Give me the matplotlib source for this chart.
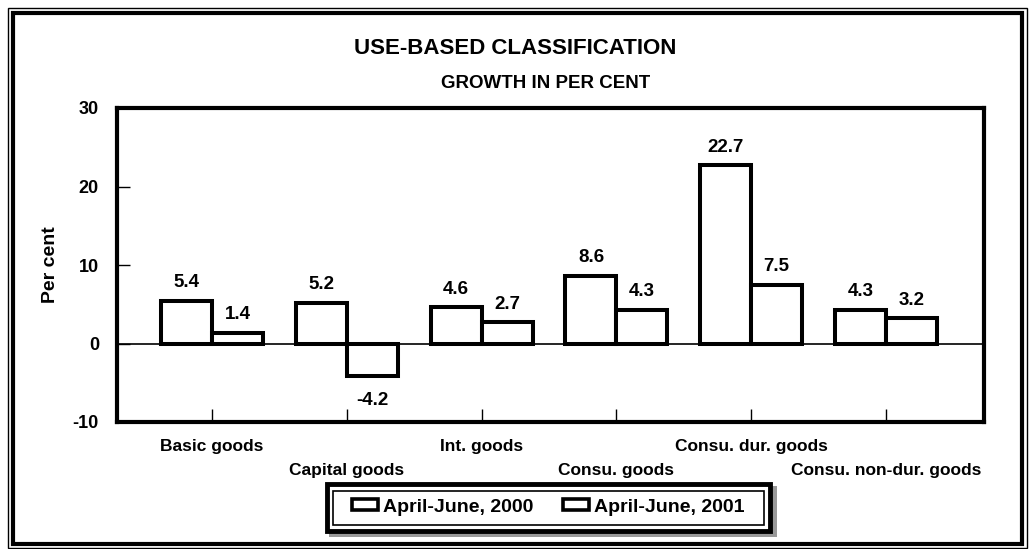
import matplotlib
matplotlib.use("Agg")
import matplotlib.pyplot as plt
from matplotlib.patches import Rectangle, Patch
import numpy as np

categories = ["Basic goods", "Capital goods", "Int. goods", "Consu. goods",
              "Consu. dur. goods", "Consu. non-dur. goods"]
series_names = ["April-June, 2000", "April-June, 2001"]
growth_2000 = [5.4, 5.2, 4.6, 8.6, 22.7, 4.3]
growth_2001 = [1.4, -4.2, 2.7, 4.3, 7.5, 3.2]
y_ticks = [-10, 0, 10, 20, 30]

plt.rcParams['font.family'] = ['Liberation Sans', 'DejaVu Sans']
plt.rcParams['font.weight'] = 'bold'

W, H = 1031, 549
fig = plt.figure(figsize=(W / 100, H / 100), dpi=100)
fig.patch.set_facecolor('white')

def fx(px):
    return px / W

def fy(py):
    return 1 - py / H

# axes: left 117, right 984, top 108, bottom 422 (pixels)
ax = fig.add_axes([fx(117), fy(422), (984 - 117) / W, (422 - 108) / H])

x = np.arange(len(categories))
bw = 0.378
b1 = ax.bar(x - bw / 2, growth_2000, bw, facecolor='white', edgecolor='black',
            linewidth=2.9, zorder=3, label=series_names[0])
b2 = ax.bar(x + bw / 2, growth_2001, bw, facecolor='white', edgecolor='black',
            linewidth=2.9, zorder=3, label=series_names[1])

ax.axhline(0, color='black', linewidth=1.2, zorder=2)

ax.set_xlim(-0.705, 5.727)
ax.set_ylim(-10, 30)
ax.set_yticks(y_ticks)
ax.set_yticklabels([str(v) for v in y_ticks], fontsize=13, fontweight='bold')
ax.set_xticks(x)
ax.set_xticklabels([''] * len(categories))
ax.tick_params(axis='y', direction='in', length=9.5, width=1, pad=13)
ax.tick_params(axis='x', direction='in', length=9.5, width=1)
for s in ax.spines.values():
    s.set_linewidth(3)
    s.set_color('black')

ax.set_ylabel("Per cent", fontsize=14, fontweight='bold', labelpad=10)

# value labels
for bars, vals in ((b1, growth_2000), (b2, growth_2001)):
    for rect, v in zip(bars, vals):
        cx = rect.get_x() + rect.get_width() / 2
        if v >= 0:
            ax.annotate(f"{v}", (cx, v), xytext=(0, 7), textcoords='offset points',
                        ha='center', va='bottom', fontsize=13.5, fontweight='bold')
        else:
            ax.annotate(f"{v}", (cx, v), xytext=(0, -11), textcoords='offset points',
                        ha='center', va='top', fontsize=13.5, fontweight='bold')

# staggered category labels
trans = ax.get_xaxis_transform()
for i, c in enumerate(categories):
    ypos = (422 - 447) / 314 if i % 2 == 0 else (422 - 470) / 314
    ax.text(i, ypos, c, transform=trans, ha='center', va='center',
            fontsize=12.5, fontweight='bold')

# titles
fig.text(fx(515), fy(49), "USE-BASED CLASSIFICATION", ha='center', va='center',
         fontsize=16, fontweight='bold')
fig.text(fx(546), fy(83), "GROWTH IN PER CENT", ha='center', va='center',
         fontsize=13.5, fontweight='bold')

# legend
handles = [Patch(facecolor='white', edgecolor='black', linewidth=2.6),
           Patch(facecolor='white', edgecolor='black', linewidth=2.6)]
leg = fig.legend(handles, series_names, loc='center',
                 bbox_to_anchor=(fx(548), fy(507)), ncol=2, frameon=False,
                 prop={'family': ['Liberation Sans'], 'weight': 'bold', 'size': 14},
                 handlelength=1.35, handleheight=0.5, handletextpad=0.25,
                 columnspacing=1.5, borderpad=0.2)

# legend frame: shadow, thick outer, thin inner
fig.add_artist(Rectangle((fx(329), fy(537)), (777 - 329) / W, (537 - 486) / H,
                         transform=fig.transFigure, facecolor='#999999',
                         edgecolor='none', zorder=0.5))
fig.add_artist(Rectangle((fx(327), fy(531)), (770 - 327) / W, (531 - 484) / H,
                         transform=fig.transFigure, facecolor='white',
                         edgecolor='black', linewidth=3.5, zorder=0.6))
fig.add_artist(Rectangle((fx(333), fy(525)), (764 - 333) / W, (525 - 491) / H,
                         transform=fig.transFigure, facecolor='none',
                         edgecolor='black', linewidth=1.2, zorder=0.7))

# outer double frame
fig.add_artist(Rectangle((fx(7.5), fy(547.5)), (1027 - 7.5) / W, (547.5 - 7.5) / H,
                         transform=fig.transFigure, facecolor='none',
                         edgecolor='black', linewidth=1.0))
fig.add_artist(Rectangle((fx(12.5), fy(544)), (1022 - 12.5) / W, (544 - 12.5) / H,
                         transform=fig.transFigure, facecolor='none',
                         edgecolor='black', linewidth=3.0))

fig.savefig("out.png", dpi=100, facecolor='white')
